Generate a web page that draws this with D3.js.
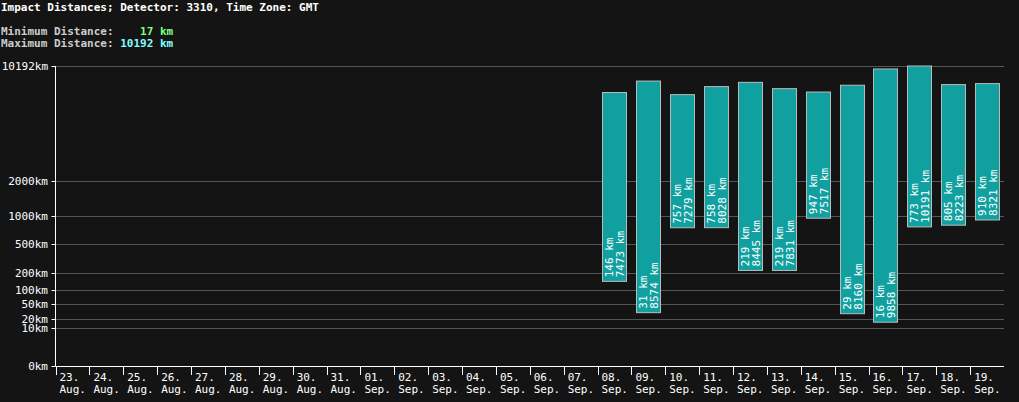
<!DOCTYPE html>
<html><head><meta charset="utf-8">
<script src="https://cdn.jsdelivr.net/npm/d3@7"></script>
<style>
body{margin:0;background:#141414;}
text{font-family:"DejaVu Sans Mono",monospace;}
</style></head>
<body><svg id="chart" width="1019" height="402"></svg>
<script>
// Data
const days = ["23.|Aug.","24.|Aug.","25.|Aug.","26.|Aug.","27.|Aug.","28.|Aug.","29.|Aug.","30.|Aug.","31.|Aug.",
  "01.|Sep.","02.|Sep.","03.|Sep.","04.|Sep.","05.|Sep.","06.|Sep.","07.|Sep.","08.|Sep.","09.|Sep.","10.|Sep.",
  "11.|Sep.","12.|Sep.","13.|Sep.","14.|Sep.","15.|Sep.","16.|Sep.","17.|Sep.","18.|Sep.","19.|Sep."];
const barDays = ["08.|Sep.","09.|Sep.","10.|Sep.","11.|Sep.","12.|Sep.","13.|Sep.","14.|Sep.","15.|Sep.","16.|Sep.","17.|Sep.","18.|Sep.","19.|Sep."];
const minDist = [146, 31, 757, 758, 219, 219, 947, 29, 16, 773, 805, 910];
const maxDist = [7473, 8574, 7279, 8028, 8445, 7831, 7517, 8160, 9858, 10191, 8223, 8321];
const yTicks = [0, 10, 20, 50, 100, 200, 500, 1000, 2000, 10192];

const svg = d3.select("#chart");
const plotL = 55.5, plotR = 1004, plotT = 66, plotB = 366;

// Header
const head = svg.append("g").style("font-size", "11px").style("font-weight", "bold");
head.append("text").attr("x", 1).attr("y", 11).attr("fill", "#fff").text("Impact Distances; Detector: 3310, Time Zone: GMT");
head.append("text").attr("x", 1).attr("y", 35).attr("fill", "#ccc").attr("xml:space", "preserve")
  .html('Minimum Distance:    <tspan fill="#7fff7f">17 km</tspan>');
head.append("text").attr("x", 1).attr("y", 47).attr("fill", "#ccc").attr("xml:space", "preserve")
  .html('Maximum Distance: <tspan fill="#7fffff">10192 km</tspan>');

// Scales
const x = d3.scaleBand().domain(days).range([plotL, plotR]);
const y = d3.scalePow().exponent(0.298).domain([0, 10192]).range([plotB, plotT]);

// Grid + y labels
svg.append("g").selectAll("line").data(yTicks.slice(1)).join("line")
  .attr("x1", plotL).attr("x2", plotR).attr("y1", d => Math.round(y(d)) + 0.5).attr("y2", d => Math.round(y(d)) + 0.5)
  .attr("stroke", "#555");
svg.append("g").selectAll("text").data(yTicks).join("text")
  .attr("x", 48).attr("y", d => y(d) + 4).attr("text-anchor", "end")
  .attr("fill", "#fff").style("font-size", "11px").text(d => d + "km");
svg.append("g").selectAll("line").data(yTicks).join("line")
  .attr("x1", plotL - 4).attr("x2", plotL).attr("y1", d => Math.round(y(d)) + 0.5).attr("y2", d => Math.round(y(d)) + 0.5)
  .attr("stroke", "#fff");

// Bars
const bw = 24;
const bars = svg.append("g").selectAll("g").data(barDays).join("g");
bars.append("rect")
  .attr("x", d => Math.round(x(d) + (x.bandwidth() - bw) / 2) + 0.5)
  .attr("y", (d, i) => y(maxDist[i]))
  .attr("width", bw)
  .attr("height", (d, i) => y(minDist[i]) - y(maxDist[i]))
  .attr("fill", "#10a0a0").attr("stroke", "#bbb");
bars.each(function(d, i) {
  const cx = x(d) + x.bandwidth() / 2, yb = y(minDist[i]) - 4;
  const t = d3.select(this).append("text")
    .attr("transform", `translate(${cx},${yb}) rotate(-90)`)
    .attr("fill", "#fff").style("font-size", "11px");
  t.append("tspan").attr("x", 0).attr("y", -1).text(minDist[i] + " km");
  t.append("tspan").attr("x", 0).attr("y", 10).text(maxDist[i] + " km");
});

// Axes lines
svg.append("line").attr("x1", plotL).attr("x2", plotL).attr("y1", plotT).attr("y2", plotB).attr("stroke", "#fff");
svg.append("line").attr("x1", plotL).attr("x2", plotR).attr("y1", plotB + 0.5).attr("y2", plotB + 0.5).attr("stroke", "#fff");

// X ticks and labels
const xg = svg.append("g");
xg.selectAll("line").data(days).join("line")
  .attr("x1", d => Math.round(x(d)) + 0.5).attr("x2", d => Math.round(x(d)) + 0.5)
  .attr("y1", plotB).attr("y2", plotB + 9).attr("stroke", "#fff");
const lab = xg.selectAll("text").data(days).join("text")
  .attr("fill", "#fff").style("font-size", "11px");
lab.append("tspan").attr("x", d => x(d) + 4).attr("y", plotB + 15).text(d => d.split("|")[0]);
lab.append("tspan").attr("x", d => x(d) + 4).attr("y", plotB + 27).text(d => d.split("|")[1]);
</script></body></html>
